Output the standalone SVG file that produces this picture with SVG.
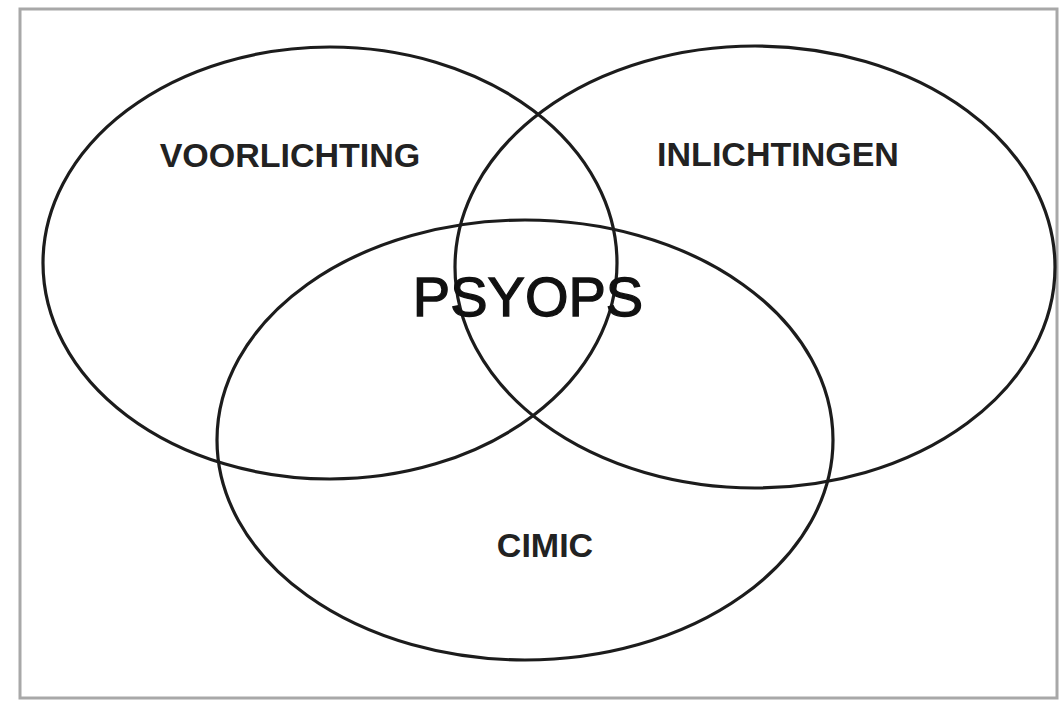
<svg xmlns="http://www.w3.org/2000/svg" width="1061" height="702" viewBox="0 0 1061 702">
<style>
.frame{fill:none;stroke:#a8a8a8;stroke-width:3}
.set{fill:none;stroke:#1c1c1c;stroke-width:3.2}
.lbl{font-family:"Liberation Sans",Arial,sans-serif;font-weight:bold;font-size:34px;fill:#222;text-anchor:middle}
.core{font-family:"Liberation Sans",Arial,sans-serif;font-size:56px;fill:#111;stroke:#111;stroke-width:1.3;text-anchor:middle}
</style>
<rect width="1061" height="702" fill="#ffffff"/>
<rect class="frame" x="20" y="9" width="1037" height="689"/>
<g id="connectors"></g>
<g id="voorlichting">
<ellipse class="set" cx="330" cy="263" rx="287" ry="216"/>
<text class="lbl" x="290" y="167">VOORLICHTING</text>
</g>
<g id="inlichtingen">
<ellipse class="set" cx="755" cy="267" rx="300" ry="221"/>
<text class="lbl" x="778" y="166">INLICHTINGEN</text>
</g>
<g id="cimic">
<ellipse class="set" cx="525" cy="440" rx="308" ry="220"/>
<text class="lbl" x="545" y="557">CIMIC</text>
</g>
<g id="psyops">
<text class="core" x="528" y="316">PSYOPS</text>
</g>
</svg>
